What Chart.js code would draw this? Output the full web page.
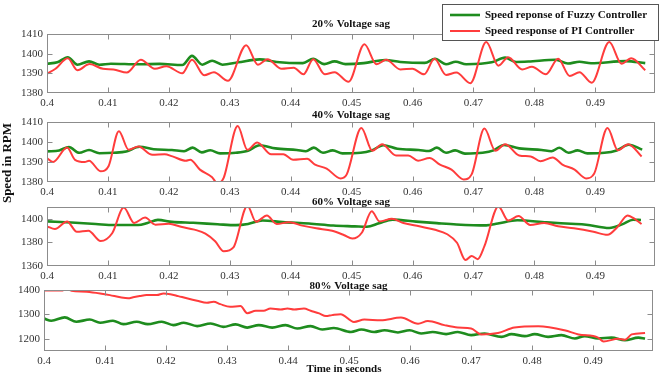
<!DOCTYPE html>
<html>
<head>
<meta charset="utf-8">
<script src="https://cdn.jsdelivr.net/npm/chart.js@4/dist/chart.umd.min.js"></script>
<style>
  html, body { margin: 0; padding: 0; background: #fff; }
  #wrap { position: relative; width: 660px; height: 377px; }
  #wrap canvas { position: absolute; left: 0; top: 0; }
</style>
</head>
<body>
<div id="wrap">
  <canvas id="p20" width="660" height="377"></canvas>
  <canvas id="p40" width="660" height="377"></canvas>
  <canvas id="p60" width="660" height="377"></canvas>
  <canvas id="p80" width="660" height="377"></canvas>
</div>
<script>
// ---- labels ----
const panelTitles = ['20% Voltage sag', '40% Voltage sag', '60% Voltage sag', '80% Voltage sag'];
const legendLabels = ['Speed reponse of Fuzzy Controller', 'Speed response of PI Controller'];
const yAxisTitle = 'Speed in RPM';
const xAxisTitle = 'Time in seconds';

// ---- tick values ----
const xTickValues = [0.40, 0.41, 0.42, 0.43, 0.44, 0.45, 0.46, 0.47, 0.48, 0.49];
const yTicks20 = [1380, 1390, 1400, 1410];
const yTicks40 = [1380, 1390, 1400, 1410];
const yTicks60 = [1360, 1380, 1400];
const yTicks80 = [1200, 1300, 1400];

// ---- 20% sag ----
const time20Fuzzy = [0.4000,0.4017,0.4034,0.4050,0.4069,0.4086,0.4105,0.4150,0.4185,0.4222,0.4238,0.4255,0.4271,0.4288,0.4314,0.4349,0.4377,0.4420,0.4437,0.4455,0.4472,0.4490,0.4520,0.4555,0.4580,0.4620,0.4637,0.4655,0.4671,0.4688,0.4730,0.4752,0.4770,0.4790,0.4835,0.4855,0.4874,0.4893,0.4950,0.4982];
const speed20Fuzzy = [1394.9,1395.6,1398.2,1394.4,1396.1,1394.4,1394.9,1394.6,1394.8,1394.2,1398.9,1394.4,1396.4,1394.4,1395.6,1397.1,1395.8,1395.2,1397.4,1394.7,1396.1,1394.7,1395.2,1396.8,1395.8,1395.3,1397.4,1394.6,1395.9,1394.6,1395.6,1398.0,1395.8,1396.0,1396.9,1395.0,1395.9,1395.1,1396.2,1395.2];
const time20PI = [0.4000,0.4014,0.4034,0.4050,0.4070,0.4092,0.4109,0.4131,0.4154,0.4177,0.4196,0.4222,0.4238,0.4258,0.4274,0.4297,0.4327,0.4346,0.4362,0.4385,0.4405,0.4421,0.4437,0.4456,0.4472,0.4495,0.4521,0.4541,0.4557,0.4580,0.4600,0.4619,0.4636,0.4655,0.4672,0.4695,0.4721,0.4741,0.4757,0.4780,0.4796,0.4819,0.4839,0.4858,0.4874,0.4894,0.4923,0.4943,0.4959,0.4982];
const speed20PI = [1389.8,1392.3,1397.7,1391.6,1394.7,1392.3,1392.0,1390.4,1396.9,1392.3,1393.6,1390.0,1396.9,1389.0,1390.6,1386.2,1404.3,1394.4,1397.2,1392.3,1392.8,1389.5,1397.2,1389.5,1390.6,1385.7,1404.8,1394.6,1396.9,1392.0,1392.3,1389.5,1397.4,1389.2,1390.4,1385.0,1405.9,1393.9,1398.2,1392.0,1393.3,1389.5,1397.4,1388.7,1390.6,1385.2,1405.9,1394.9,1397.7,1391.6];

// ---- 40% sag ----
const time40Fuzzy = [0.4000,0.4020,0.4036,0.4053,0.4069,0.4086,0.4110,0.4130,0.4152,0.4175,0.4205,0.4225,0.4239,0.4254,0.4268,0.4284,0.4310,0.4330,0.4349,0.4375,0.4410,0.4425,0.4438,0.4453,0.4469,0.4485,0.4515,0.4533,0.4552,0.4575,0.4610,0.4627,0.4640,0.4655,0.4670,0.4686,0.4715,0.4733,0.4750,0.4775,0.4812,0.4828,0.4841,0.4856,0.4871,0.4887,0.4915,0.4935,0.4955,0.4977];
const speed40Fuzzy = [1395.3,1395.8,1397.5,1394.6,1396.0,1394.4,1394.6,1395.2,1397.6,1396.4,1396.0,1395.4,1397.2,1394.8,1395.9,1394.3,1394.6,1395.6,1398.4,1396.8,1396.0,1395.4,1397.2,1394.6,1395.8,1394.3,1394.6,1395.8,1398.4,1396.6,1396.0,1395.5,1397.2,1394.6,1395.8,1394.2,1394.6,1395.8,1398.5,1396.8,1396.0,1395.4,1397.1,1394.6,1395.8,1394.3,1394.6,1395.8,1398.6,1396.2];
const time40PI = [0.4000,0.4010,0.4033,0.4046,0.4062,0.4069,0.4088,0.4101,0.4118,0.4134,0.4150,0.4173,0.4193,0.4206,0.4228,0.4235,0.4251,0.4271,0.4280,0.4290,0.4313,0.4329,0.4345,0.4368,0.4388,0.4404,0.4427,0.4440,0.4459,0.4482,0.4492,0.4516,0.4534,0.4550,0.4573,0.4593,0.4609,0.4628,0.4645,0.4664,0.4684,0.4697,0.4718,0.4736,0.4752,0.4775,0.4794,0.4810,0.4830,0.4846,0.4866,0.4885,0.4898,0.4920,0.4937,0.4954,0.4976];
const speed40PI = [1392.0,1390.0,1397.2,1391.1,1390.0,1390.6,1385.4,1387.9,1405.4,1396.1,1397.7,1393.6,1393.9,1392.8,1390.6,1391.1,1386.2,1382.4,1379.2,1382.1,1408.0,1396.1,1399.8,1393.9,1393.9,1391.1,1391.6,1388.7,1386.7,1381.8,1383.8,1407.0,1395.6,1398.9,1393.3,1393.3,1390.6,1392.0,1388.7,1386.2,1381.3,1383.8,1406.7,1395.6,1398.9,1393.3,1392.8,1390.4,1392.3,1388.7,1386.2,1381.8,1384.1,1407.0,1395.9,1398.9,1392.8];

// ---- 60% sag ----
const time60Fuzzy = [0.4000,0.4040,0.4080,0.4110,0.4150,0.4165,0.4182,0.4205,0.4240,0.4280,0.4310,0.4330,0.4354,0.4387,0.4430,0.4470,0.4505,0.4525,0.4545,0.4567,0.4606,0.4640,0.4672,0.4721,0.4740,0.4772,0.4820,0.4860,0.4885,0.4923,0.4945,0.4962,0.4975];
const speed60Fuzzy = [1397.8,1396.8,1395.6,1394.7,1394.7,1396.5,1399.1,1397.4,1396.6,1395.4,1394.6,1395.6,1398.6,1397.2,1396.0,1394.3,1393.6,1393.2,1396.2,1399.3,1397.6,1396.3,1395.2,1394.4,1396.0,1398.8,1397.0,1395.8,1395.0,1392.2,1395.5,1399.2,1399.0];
const time60PI = [0.4000,0.4013,0.4033,0.4049,0.4068,0.4088,0.4107,0.4126,0.4143,0.4161,0.4178,0.4200,0.4220,0.4242,0.4260,0.4276,0.4290,0.4306,0.4329,0.4343,0.4361,0.4377,0.4397,0.4419,0.4442,0.4468,0.4488,0.4501,0.4517,0.4533,0.4546,0.4566,0.4585,0.4611,0.4637,0.4657,0.4673,0.4687,0.4697,0.4707,0.4718,0.4741,0.4757,0.4774,0.4793,0.4816,0.4839,0.4865,0.4897,0.4920,0.4936,0.4953,0.4966,0.4976];
const speed60PI = [1393.6,1391.3,1397.7,1389.0,1389.9,1381.2,1387.8,1409.5,1396.5,1401.0,1395.0,1395.8,1393.2,1390.8,1387.5,1381.0,1372.5,1375.8,1411.0,1397.5,1402.8,1395.6,1397.1,1394.2,1391.9,1389.9,1386.1,1383.2,1388.4,1406.4,1397.7,1400.0,1396.5,1393.6,1390.7,1386.9,1379.7,1365.0,1368.5,1365.8,1376.8,1410.5,1398.5,1402.3,1394.8,1396.5,1393.6,1391.9,1389.0,1386.4,1392.8,1402.9,1399.4,1395.6];

// ---- 80% sag ----
const time80Fuzzy = [0.4000,0.4012,0.4034,0.4053,0.4075,0.4092,0.4113,0.4130,0.4152,0.4170,0.4193,0.4212,0.4229,0.4251,0.4273,0.4294,0.4314,0.4333,0.4352,0.4374,0.4396,0.4415,0.4437,0.4456,0.4475,0.4503,0.4520,0.4541,0.4558,0.4580,0.4599,0.4618,0.4637,0.4659,0.4678,0.4700,0.4722,0.4750,0.4766,0.4788,0.4804,0.4826,0.4848,0.4870,0.4886,0.4908,0.4930,0.4952,0.4974,0.4985];
const speed80Fuzzy = [1283,1274,1288,1270,1279,1266,1274,1260,1270,1260,1270,1256,1266,1252,1263,1249,1259,1246,1256,1246,1256,1242,1252,1238,1244,1228,1238,1228,1235,1226,1235,1222,1228,1219,1228,1215,1222,1208,1219,1211,1219,1208,1215,1201,1211,1201,1205,1194,1205,1201];
const time80PI = [0.4000,0.4029,0.4036,0.4045,0.4070,0.4092,0.4108,0.4125,0.4138,0.4146,0.4157,0.4168,0.4185,0.4196,0.4207,0.4220,0.4234,0.4251,0.4267,0.4278,0.4289,0.4305,0.4322,0.4333,0.4347,0.4360,0.4371,0.4388,0.4399,0.4410,0.4426,0.4437,0.4451,0.4462,0.4472,0.4486,0.4508,0.4525,0.4552,0.4585,0.4613,0.4629,0.4656,0.4678,0.4700,0.4717,0.4744,0.4771,0.4810,0.4853,0.4876,0.4908,0.4917,0.4941,0.4952,0.4963,0.4985];
const speed80PI = [1398,1398,1404,1397,1393,1386,1379,1370,1366,1370,1375,1379,1379,1386,1383,1375,1366,1356,1348,1352,1342,1331,1334,1305,1315,1315,1324,1320,1324,1320,1324,1315,1304,1293,1297,1301,1269,1279,1276,1287,1262,1273,1256,1246,1242,1218,1224,1246,1251,1235,1218,1205,1189,1200,1196,1218,1224];

// ---- styling ----
const GREEN = '#1e8c1e';
const RED = '#ff3c3c';
const FONT = '"Liberation Serif", "Times New Roman", serif';
const X_MIN = 0.4, X_MAX = 0.4998;
const XAXIS_H = 20;

const panels = [
  { id: 'p20', title: panelTitles[0], tF: time20Fuzzy, vF: speed20Fuzzy, tP: time20PI, vP: speed20PI,
    yMin: 1380, yMax: 1410, yTicks: yTicks20, top: 34, bottom: 93, left: 47, right: 655, titleY: 24, legend: true },
  { id: 'p40', title: panelTitles[1], tF: time40Fuzzy, vF: speed40Fuzzy, tP: time40PI, vP: speed40PI,
    yMin: 1380, yMax: 1410, yTicks: yTicks40, top: 122, bottom: 182, left: 47, right: 655, titleY: 115 },
  { id: 'p60', title: panelTitles[2], tF: time60Fuzzy, vF: speed60Fuzzy, tP: time60PI, vP: speed60PI,
    yMin: 1360, yMax: 1410, yTicks: yTicks60, top: 207, bottom: 266, left: 47, right: 655, titleY: 202 },
  { id: 'p80', title: panelTitles[3], tF: time80Fuzzy, vF: speed80Fuzzy, tP: time80PI, vP: speed80PI,
    yMin: 1150, yMax: 1400, yTicks: yTicks80, top: 290, bottom: 351, left: 44, right: 653, titleY: 286, axisTitles: true }
];

function points(ts, vs) {
  return ts.map((t, i) => ({ x: t, y: vs[i] }));
}

// Box, inward tick marks, panel title, legend and axis titles
const framePlugin = {
  id: 'frame',
  afterDraw(chart, args, opts) {
    const { ctx, chartArea: a, scales } = chart;
    const L = Math.round(a.left) + 0.5, R = Math.round(a.right) - 0.5;
    const T = Math.round(a.top) + 0.5, B = Math.round(a.bottom) - 0.5;
    ctx.save();
    ctx.strokeStyle = '#8c8c8c';
    ctx.lineWidth = 1;
    ctx.beginPath();
    scales.x.ticks.forEach(tk => {
      const px = Math.round(scales.x.getPixelForValue(tk.value)) + 0.5;
      if (px - L < 2 || R - px < 2) return;
      ctx.moveTo(px, B); ctx.lineTo(px, B - 5);
      ctx.moveTo(px, T); ctx.lineTo(px, T + 5);
    });
    scales.y.ticks.forEach(tk => {
      const py = Math.round(scales.y.getPixelForValue(tk.value)) + 0.5;
      if (py - T < 2 || B - py < 2) return;
      ctx.moveTo(L, py); ctx.lineTo(L + 5, py);
      ctx.moveTo(R, py); ctx.lineTo(R - 5, py);
    });
    ctx.stroke();
    ctx.strokeRect(L, T, R - L, B - T);

    ctx.fillStyle = '#111';
    ctx.font = 'bold 11px ' + FONT;
    ctx.textAlign = 'center';
    ctx.textBaseline = 'middle';
    ctx.fillText(opts.text, (a.left + a.right) / 2, opts.titleY);

    if (opts.legend) {
      ctx.fillStyle = '#fff';
      ctx.fillRect(442, 4, 217, 36);
      ctx.strokeStyle = '#555';
      ctx.strokeRect(442.5, 4.5, 216, 36);
      ctx.lineWidth = 2.6;
      ctx.strokeStyle = GREEN;
      ctx.beginPath(); ctx.moveTo(450, 15); ctx.lineTo(480, 15); ctx.stroke();
      ctx.lineWidth = 2;
      ctx.strokeStyle = RED;
      ctx.beginPath(); ctx.moveTo(450, 31); ctx.lineTo(480, 31); ctx.stroke();
      ctx.fillStyle = '#111';
      ctx.textAlign = 'left';
      ctx.fillText(legendLabels[0], 485, 15);
      ctx.fillText(legendLabels[1], 485, 31);
    }

    if (opts.axisTitles) {
      ctx.fillStyle = '#111';
      ctx.textAlign = 'center';
      ctx.fillText(xAxisTitle, 344, 369);
      ctx.save();
      ctx.translate(8, 163);
      ctx.rotate(-Math.PI / 2);
      ctx.font = 'bold 13px ' + FONT;
      ctx.fillText(yAxisTitle, 0, 0);
      ctx.restore();
    }
    ctx.restore();
  }
};

panels.forEach(p => {
  new Chart(document.getElementById(p.id), {
    type: 'line',
    data: {
      datasets: [
        { label: legendLabels[1], data: points(p.tP, p.vP), borderColor: RED, borderWidth: 2,
          pointRadius: 0, cubicInterpolationMode: 'monotone', clip: 0, borderJoinStyle: 'round' },
        { label: legendLabels[0], data: points(p.tF, p.vF), borderColor: GREEN, borderWidth: 2.6,
          pointRadius: 0, cubicInterpolationMode: 'monotone', clip: 0, borderJoinStyle: 'round' }
      ]
    },
    options: {
      responsive: false,
      animation: false,
      devicePixelRatio: 1,
      events: [],
      layout: { padding: { left: 0, top: p.top, right: 660 - p.right, bottom: 377 - p.bottom - XAXIS_H } },
      plugins: {
        legend: { display: false },
        tooltip: { enabled: false },
        title: { display: false },
        frame: { text: p.title, titleY: p.titleY, legend: !!p.legend, axisTitles: !!p.axisTitles }
      },
      scales: {
        x: {
          type: 'linear', min: X_MIN, max: X_MAX,
          afterBuildTicks: s => { s.ticks = xTickValues.map(v => ({ value: v })); },
          afterFit: s => { s.height = XAXIS_H; },
          grid: { display: false, drawTicks: false },
          border: { display: false },
          ticks: { padding: 4, maxRotation: 0, autoSkip: false, color: '#333',
                   font: { family: FONT, size: 11 },
                   callback: v => String(Math.round(v * 100) / 100) }
        },
        y: {
          type: 'linear', min: p.yMin, max: p.yMax,
          afterBuildTicks: s => { s.ticks = p.yTicks.map(v => ({ value: v })); },
          afterFit: s => { s.width = p.left; },
          grid: { display: false, drawTicks: false },
          border: { display: false },
          ticks: { padding: 4, color: '#333', font: { family: FONT, size: 11 },
                   callback: v => String(v) }
        }
      }
    },
    plugins: [framePlugin]
  });
});
</script>
</body>
</html>
